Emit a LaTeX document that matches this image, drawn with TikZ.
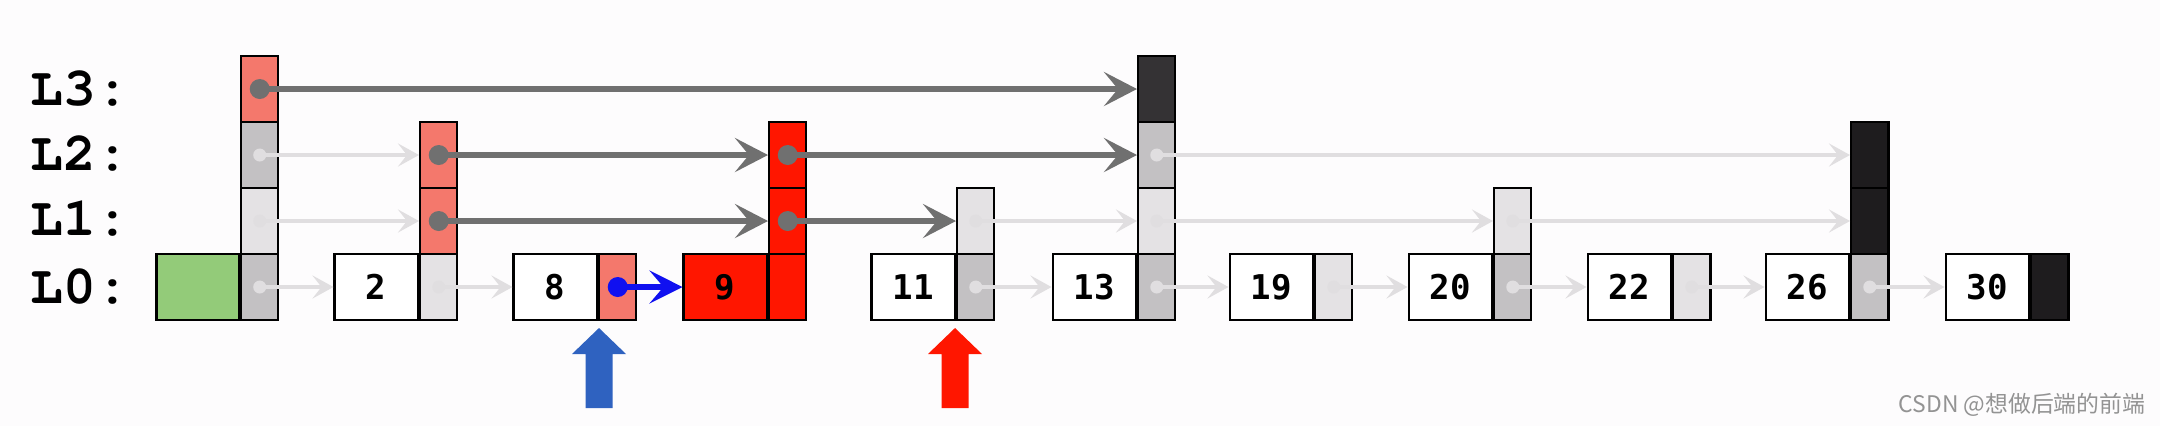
\documentclass[tikz,border=0pt]{standalone}
\usepackage{fontspec}
\usetikzlibrary{arrows.meta}
\newfontfamily\labelfont{texgyrecursor}[Extension=.otf,UprightFont=*-regular,BoldFont=*-bold]
\newfontfamily\keyfont{DejaVu Sans Mono}
\newfontfamily\cjkfont{Noto Sans CJK SC}
\definecolor{bgcol}{HTML}{FDFCFD}
\definecolor{salmon}{HTML}{F4786C}
\definecolor{hotred}{HTML}{FF1600}
\definecolor{leafgreen}{HTML}{93CB79}
\definecolor{midgray}{HTML}{C3C1C3}
\definecolor{palegray}{HTML}{E4E2E4}
\definecolor{darkcell}{HTML}{343234}
\definecolor{blackcell}{HTML}{1E1C1E}
\definecolor{linkgray}{HTML}{707070}
\definecolor{fadegray}{HTML}{E0DEE0}
\definecolor{pointblue}{HTML}{2F62C0}
\definecolor{nextblue}{HTML}{1010F0}
\begin{document}
\begin{tikzpicture}[x=0.01cm,y=-0.01cm,
  keybox/.style={draw,line width=0.7pt,minimum width=0.83cm,minimum height=0.66cm,inner sep=0pt,fill=white,anchor=east,
    font=\keyfont\bfseries\fontsize{9.7}{10}\selectfont},
  ptrbox/.style={draw,line width=0.7pt,minimum width=0.37cm,minimum height=0.66cm,inner sep=0pt,anchor=west},
  level/.style={anchor=west,inner sep=0pt,font=\labelfont\bfseries\fontsize{15.5}{18}\selectfont},
  strong/.style={linkgray,line width=1.7pt,-{Stealth[length=3.3mm,width=3.4mm,inset=1.4mm]}},
  faint/.style={fadegray,line width=1.1pt,-{Stealth[length=2.1mm,width=2.3mm,inset=0.9mm]}},
  ]
  \useasboundingbox[fill=bgcol] (0,0) rectangle (2160,426);

  \node[level] (l3) at (30,89) {L3:};
  \node[level] (l2) at (30,154) {L2:};
  \node[level] (l1) at (30,219) {L1:};
  \node[level] (l0) at (30,287) {L0:};

  % head
  \node[keybox,fill=leafgreen,minimum width=0.82cm] (hk) at (240,287) {};
  \node[ptrbox,fill=midgray] (hp0) at (240,287) {};
  \node[ptrbox,fill=palegray] (hp1) at (240,221) {};
  \node[ptrbox,fill=midgray] (hp2) at (240,155) {};
  \node[ptrbox,fill=salmon] (hp3) at (240,89) {};

  \node[keybox] (n2k) at (419,287) {2};
  \node[ptrbox,fill=palegray] (n2p0) at (419,287) {};
  \node[ptrbox,fill=salmon] (n2p1) at (419,221) {};
  \node[ptrbox,fill=salmon] (n2p2) at (419,155) {};

  \node[keybox] (n8k) at (598,287) {8};
  \node[ptrbox,fill=salmon] (n8p0) at (598,287) {};

  \node[keybox,fill=hotred] (n9k) at (768,287) {9};
  \node[ptrbox,fill=hotred] (n9p0) at (768,287) {};
  \node[ptrbox,fill=hotred] (n9p1) at (768,221) {};
  \node[ptrbox,fill=hotred] (n9p2) at (768,155) {};

  \node[keybox] (n11k) at (956,287) {11};
  \node[ptrbox,fill=midgray] (n11p0) at (956,287) {};
  \node[ptrbox,fill=palegray] (n11p1) at (956,221) {};

  \node[keybox] (n13k) at (1137,287) {13};
  \node[ptrbox,fill=midgray] (n13p0) at (1137,287) {};
  \node[ptrbox,fill=palegray] (n13p1) at (1137,221) {};
  \node[ptrbox,fill=midgray] (n13p2) at (1137,155) {};
  \node[ptrbox,fill=darkcell] (n13p3) at (1137,89) {};

  \node[keybox] (n19k) at (1314,287) {19};
  \node[ptrbox,fill=palegray] (n19p0) at (1314,287) {};

  \node[keybox] (n20k) at (1493,287) {20};
  \node[ptrbox,fill=midgray] (n20p0) at (1493,287) {};
  \node[ptrbox,fill=palegray] (n20p1) at (1493,221) {};

  \node[keybox] (n22k) at (1672,287) {22};
  \node[ptrbox,fill=palegray] (n22p0) at (1672,287) {};

  \node[keybox] (n26k) at (1850,287) {26};
  \node[ptrbox,fill=midgray] (n26p0) at (1850,287) {};
  \node[ptrbox,fill=blackcell] (n26p1) at (1850,221) {};
  \node[ptrbox,fill=blackcell] (n26p2) at (1850,155) {};

  \node[keybox] (n30k) at (2030,287) {30};
  \node[ptrbox,fill=blackcell] (n30p0) at (2030,287) {};

  % faint links
  \draw[faint] (hp2.center) -- (n2p2.west);
  \draw[faint] (n13p2.center) -- (n26p2.west);
  \draw[faint] (hp1.center) -- (n2p1.west);
  \draw[faint] (n11p1.center) -- (n13p1.west);
  \draw[faint] (n13p1.center) -- (n20p1.west);
  \draw[faint] (n20p1.center) -- (n26p1.west);
  \draw[faint] (hp0.center) -- (n2k.west);
  \draw[faint] (n2p0.center) -- (n8k.west);
  \draw[faint] (n11p0.center) -- (n13k.west);
  \draw[faint] (n13p0.center) -- (n19k.west);
  \draw[faint] (n19p0.center) -- (n20k.west);
  \draw[faint] (n20p0.center) -- (n22k.west);
  \draw[faint] (n22p0.center) -- (n26k.west);
  \draw[faint] (n26p0.center) -- (n30k.west);
  \foreach \p in {hp2,n13p2,hp1,n11p1,n13p1,n20p1,hp0,n2p0,n11p0,n13p0,n19p0,n20p0,n22p0,n26p0}
    \fill[fadegray] (\p.center) circle (0.065cm);

  % search path
  \draw[strong] (hp3.center) -- (n13p3.west);
  \draw[strong] (n2p2.center) -- (n9p2.west);
  \draw[strong] (n9p2.center) -- (n13p2.west);
  \draw[strong] (n2p1.center) -- (n9p1.west);
  \draw[strong] (n9p1.center) -- (n11p1.west);
  \foreach \p in {hp3,n2p2,n9p2,n2p1,n9p1}
    \fill[linkgray] (\p.center) circle (0.1cm);

  \draw[nextblue,line width=1.5pt,-{Stealth[length=3.3mm,width=3.3mm,inset=1.4mm]}] (n8p0.center) -- (n9k.west);
  \fill[nextblue] (n8p0.center) circle (0.1cm);

  \fill[pointblue] (585.5,408) -- (585.5,354) -- (572,354) -- (599,328) -- (626,354) -- (612.5,354) -- (612.5,408) -- cycle;
  \fill[hotred] (941.5,408) -- (941.5,354) -- (928,354) -- (955,328) -- (982,354) -- (968.5,354) -- (968.5,408) -- cycle;

  \node[anchor=east,inner sep=0pt,text=gray!85,font=\cjkfont\fontsize{6.5}{8}\selectfont] (mark) at (2146,405) {CSDN @想做后端的前端};
\end{tikzpicture}
\end{document}
